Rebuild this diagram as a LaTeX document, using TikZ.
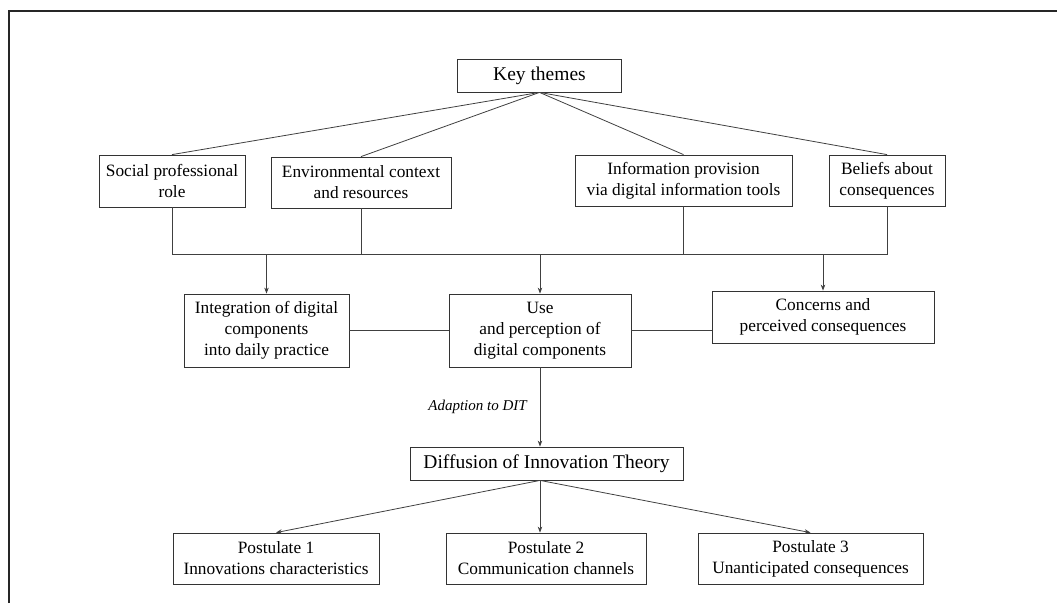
\documentclass[tikz,border=0pt]{standalone}
\usepackage{fontspec}
\setmainfont{Liberation Serif}
\usetikzlibrary{arrows.meta}
\begin{document}
\begin{tikzpicture}[x=1pt,y=-1pt,
  box/.style={draw=black!80, line width=0.8pt, align=center, inner sep=0pt,
    font=\fontsize{17.3}{21}\selectfont},
  bigbox/.style={box, font=\fontsize{19.5}{22}\selectfont},
  conn/.style={draw=black!75, line width=0.8pt},
  arr/.style={conn, -{Stealth[length=6pt,width=4.5pt]}}]
\useasboundingbox (0,0) rectangle (1057,603);
\draw[line width=2pt, black!85] (9,603) -- (9,11) -- (1057,11);

\node[bigbox, minimum width=164pt, minimum height=33pt] (key) at (539.5,75.5) {Key themes};
\node[box, minimum width=146pt, minimum height=52pt] (soc) at (172,181) {Social professional\\role};
\node[box, minimum width=180pt, minimum height=51pt] (env) at (361,182.5) {Environmental context\\and resources};
\node[box, minimum width=217pt, minimum height=51pt] (inf) at (683.5,180.5) {Information provision\\via digital information tools};
\node[box, minimum width=116pt, minimum height=51pt] (bel) at (887,180.5) {Beliefs about\\consequences};

\node[box, minimum width=165pt, minimum height=73pt] (int) at (266.5,330.5) {Integration of digital\\components\\into daily practice};
\node[box, minimum width=182pt, minimum height=73pt] (use) at (540,330.5) {Use\\and perception of\\digital components};
\node[box, minimum width=222pt, minimum height=52pt] (con) at (823,317) {Concerns and\\perceived consequences};

\node[bigbox, minimum width=273pt, minimum height=33pt] (dit) at (546.5,463.5) {Diffusion of Innovation Theory};
\node[box, minimum width=206pt, minimum height=51pt] (p1) at (276,558.5) {Postulate 1\\Innovations characteristics};
\node[box, minimum width=200pt, minimum height=51pt] (p2) at (546,558.5) {Postulate 2\\Communication channels};
\node[box, minimum width=225pt, minimum height=51pt] (p3) at (810.5,558.5) {Postulate 3\\Unanticipated consequences};

\node[font=\fontsize{15}{18}\selectfont\itshape, inner sep=0pt] (lab) at (477.5,406.7) {Adaption to DIT};

% fan from key themes
\foreach \n in {soc,env,inf,bel} \draw[conn] (key.south) -- (\n.north);

% bus
\coordinate (bus) at (0,254);
\draw[conn] (soc.south) -- (soc.south |- bus) -- (bel.south |- bus) -- (bel.south);
\draw[conn] (env.south) -- (env.south |- bus);
\draw[conn] (inf.south) -- (inf.south |- bus);
\draw[arr] (int.north |- bus) -- (int.north);
\draw[arr] (use.north |- bus) -- (use.north);
\draw[arr] (con.north |- bus) -- (con.north);

% horizontal links
\draw[conn] (int.east) -- (use.west);
\draw[conn] (use.east) -- (use.east -| con.west);

% to DIT
\draw[arr] (use.south) -- (use.south |- dit.north);
\coordinate (ditpt) at (use.south |- dit.south);
\draw[arr] (ditpt) -- (p1.north);
\draw[arr] (ditpt) -- (ditpt |- p2.north);
\draw[arr] (ditpt) -- (p3.north);
\end{tikzpicture}
\end{document}
